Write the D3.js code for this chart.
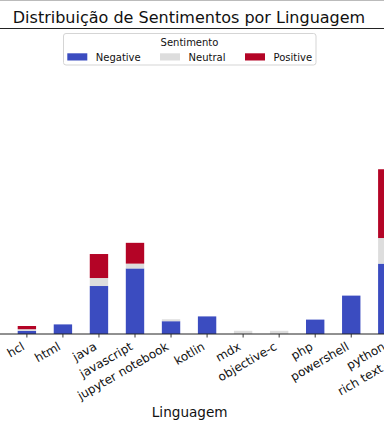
<!DOCTYPE html>
<html>
<head>
<meta charset="utf-8">
<script src="https://cdn.jsdelivr.net/npm/d3@7"></script>
<style>
    body { margin: 0; background: #fff; }
    svg { display: block; font-family: "DejaVu Sans", sans-serif; }
</style>
</head>
<body>
<script>
(function(){

    //chart data: languages and count of each sentiment
    var languages = ["hcl", "html", "java", "javascript", "jupyter notebook", "kotlin", "mdx", "objective-c", "php", "powershell", "python", "rich text format"];
    var negative = [2, 6, 30, 41, 8, 11, 0, 0, 9, 24, 44, 110];
    var neutral  = [1, 0, 5, 3, 1.2, 0, 2, 2, 0, 0, 16, 22];
    var positive = [2, 0, 15, 13, 0, 0, 0, 0, 0, 0, 43, 50];
    var sentiments = ["Negative", "Neutral", "Positive"];
    var colors = ["#3b4cc0", "#dddddd", "#b40426"];
    var yMax = 191;

    //frame dimensions
    var width = 384,
        height = 431,
        plotTop = 28.5,
        plotBottom = 334;

    var svg = d3.select("body")
        .append("svg")
        .attr("width", width)
        .attr("height", height);

    //build table for the stack generator
    var table = languages.map(function(d, i){
        return {lang: d, Negative: negative[i], Neutral: neutral[i], Positive: positive[i]};
    });
    var series = d3.stack().keys(sentiments)(table);

    //scales
    var step = 36.1;
    var x = d3.scaleBand()
        .domain(languages)
        .range([8.5, 8.5 + step * languages.length])
        .paddingInner(0.49)
        .paddingOuter(0.255);

    var y = d3.scaleLinear()
        .domain([0, yMax])
        .range([plotBottom, plotTop]);

    //faint top border
    svg.append("line")
        .attr("x1", 0).attr("x2", width)
        .attr("y1", 0.5).attr("y2", 0.5)
        .attr("stroke", "#bbbbbb");

    //stacked bars
    svg.selectAll(".layer")
        .data(series)
        .enter()
        .append("g")
        .attr("class", "layer")
        .attr("fill", function(d, i){ return colors[i]; })
        .selectAll("rect")
        .data(function(d){ return d; })
        .enter()
        .append("rect")
        .attr("x", function(d){ return x(d.data.lang); })
        .attr("width", x.bandwidth())
        .attr("y", function(d){ return y(d[1]); })
        .attr("height", function(d){ return y(d[0]) - y(d[1]); });

    //x axis with rotated labels
    var xAxis = d3.axisBottom(x)
        .tickSize(3.5)
        .tickPadding(3.5);

    var axis = svg.append("g")
        .attr("transform", "translate(0," + plotBottom + ")")
        .call(xAxis);

    axis.select(".domain").remove();
    axis.selectAll(".tick line")
        .attr("stroke", "#222")
        .attr("stroke-width", 0.9);
    //right end of each label sits just left of its tick, top under the tick
    axis.selectAll(".tick text")
        .attr("font-family", "DejaVu Sans")
        .attr("font-size", 12)
        .attr("fill", "#111")
        .attr("text-anchor", "end")
        .attr("y", 0)
        .attr("dy", 0)
        .attr("transform", "translate(-1.4,14.9) rotate(-30)");

    //spines
    svg.append("line")
        .attr("x1", 0).attr("x2", width)
        .attr("y1", plotBottom).attr("y2", plotBottom)
        .attr("stroke", "#222")
        .attr("stroke-width", 1);
    svg.append("line")
        .attr("x1", 0).attr("x2", width)
        .attr("y1", plotTop).attr("y2", plotTop)
        .attr("stroke", "#222")
        .attr("stroke-width", 1);

    //title and axis label
    svg.append("text")
        .attr("x", 189)
        .attr("y", 22.5)
        .attr("text-anchor", "middle")
        .attr("font-size", 16)
        .attr("fill", "#111")
        .text("Distribuição de Sentimentos por Linguagem");

    svg.append("text")
        .attr("x", 189.7)
        .attr("y", 417.3)
        .attr("text-anchor", "middle")
        .attr("font-size", 13.6)
        .attr("fill", "#111")
        .text("Linguagem");

    //legend
    var legend = svg.append("g").attr("class", "legend");
    legend.append("rect")
        .attr("x", 63.5).attr("y", 33.5)
        .attr("width", 252.5).attr("height", 31.5)
        .attr("rx", 2.5)
        .attr("fill", "#fff")
        .attr("fill-opacity", 0.8)
        .attr("stroke", "#d5d5d5");
    legend.append("text")
        .attr("x", 189.5).attr("y", 46)
        .attr("text-anchor", "middle")
        .attr("font-size", 10)
        .attr("fill", "#111")
        .text("Sentimento");

    var entryX = [67.3, 160, 245];
    var items = legend.selectAll(".item")
        .data(sentiments)
        .enter()
        .append("g")
        .attr("class", "item")
        .attr("transform", function(d, i){ return "translate(" + entryX[i] + ",0)"; });
    items.append("rect")
        .attr("y", 53.3)
        .attr("width", 20)
        .attr("height", 7.2)
        .attr("fill", function(d, i){ return colors[i]; });
    items.append("text")
        .attr("x", 28.5)
        .attr("y", 60.6)
        .attr("font-size", 10)
        .attr("fill", "#111")
        .text(function(d){ return d; });

})();
</script>
</body>
</html>
